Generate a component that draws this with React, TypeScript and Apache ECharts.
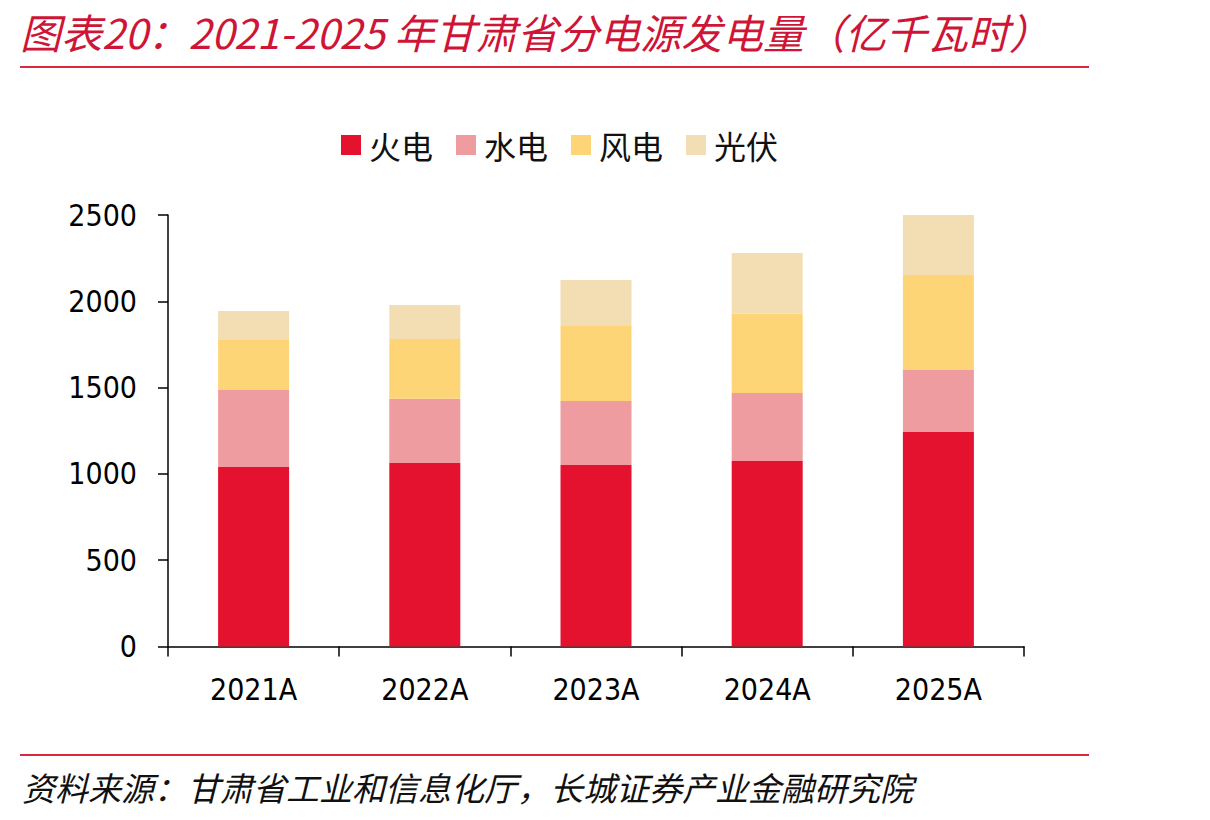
import React, { useEffect, useRef } from "react";
import * as echarts from "echarts";

// 甘肃省分电源发电量（亿千瓦时）
const years = ["2021A", "2022A", "2023A", "2024A", "2025A"];
const thermal = [1040, 1063, 1052, 1075, 1243]; // 火电
const hydro = [446, 373, 370, 394, 359]; // 水电
const wind = [290, 346, 435, 459, 550]; // 风电
const solar = [168, 197, 267, 352, 354]; // 光伏
const yTicks = { min: 0, max: 2500, interval: 500 };

const titleText = "图表20：2021-2025 年甘肃省分电源发电量（亿千瓦时）";
const sourceText = "资料来源：甘肃省工业和信息化厅，长城证券产业金融研究院";

const CJK = '"Noto Sans CJK SC", "Noto Sans", sans-serif';
const NUM = '"DejaVu Sans Condensed", "DejaVu Sans", sans-serif';

export default function App() {
  const ref = useRef<HTMLDivElement>(null);

  useEffect(() => {
    if (!ref.current) return;
    const chart = echarts.init(ref.current, null, { renderer: "svg" });

    const mk = (name: string, data: number[], color: string) => ({
      name,
      type: "bar",
      stack: "total",
      data,
      barWidth: 71,
      itemStyle: { color },
    });

    chart.setOption({
      animation: false,
      backgroundColor: "#ffffff",
      title: {
        text: titleText,
        left: 16,
        top: 2,
        padding: [4, 8, 4, 4],
        textStyle: {
          fontFamily: CJK,
          fontStyle: "italic",
          fontWeight: "normal",
          fontSize: 41,
          lineHeight: 50,
          color: "#CF1537",
        },
      },
      graphic: [
        {
          type: "line",
          shape: { x1: 20, y1: 67, x2: 1089, y2: 67 },
          style: { stroke: "#D9283F", lineWidth: 2 },
        },
        {
          type: "line",
          shape: { x1: 20, y1: 755, x2: 1089, y2: 755 },
          style: { stroke: "#D9283F", lineWidth: 2 },
        },
        {
          type: "text",
          left: 22,
          top: 770,
          style: {
            text: sourceText,
            font: `italic 33px ${CJK}`,
            fill: "#111111",
          },
        },
      ],
      legend: {
        left: 336,
        top: 124,
        itemWidth: 20,
        itemHeight: 20,
        itemGap: 23,
        icon: "rect",
        textStyle: {
          fontFamily: CJK,
          fontSize: 32,
          color: "#111111",
          padding: [0, 0, 0, 3],
        },
        data: ["火电", "水电", "风电", "光伏"],
      },
      grid: {
        left: 168,
        right: 186,
        top: 215,
        bottom: 173.5,
        containLabel: false,
      },
      xAxis: {
        type: "category",
        data: years,
        axisLine: { lineStyle: { color: "#000", width: 1.5 } },
        axisTick: { show: true, length: 10, alignWithLabel: false, lineStyle: { color: "#000", width: 1.5 } },
        axisLabel: {
          fontFamily: NUM,
          fontSize: 30,
          color: "#000",
          margin: 28,
        },
      },
      yAxis: {
        type: "value",
        min: yTicks.min,
        max: yTicks.max,
        interval: yTicks.interval,
        axisLine: { show: true, lineStyle: { color: "#000", width: 1.5 } },
        axisTick: { show: true, length: 10, lineStyle: { color: "#000", width: 1.5 } },
        splitLine: { show: false },
        axisLabel: {
          fontFamily: NUM,
          fontSize: 30,
          color: "#000",
          margin: 31,
          formatter: (v: number) => String(v),
        },
      },
      series: [
        mk("火电", thermal, "#E5122F"),
        mk("水电", hydro, "#EE9C9F"),
        mk("风电", wind, "#FED576"),
        mk("光伏", solar, "#F3DDB3"),
      ],
    });

    return () => chart.dispose();
  }, []);

  return <div ref={ref} style={{ width: 1210, height: 820, margin: -8 }} />;
}
